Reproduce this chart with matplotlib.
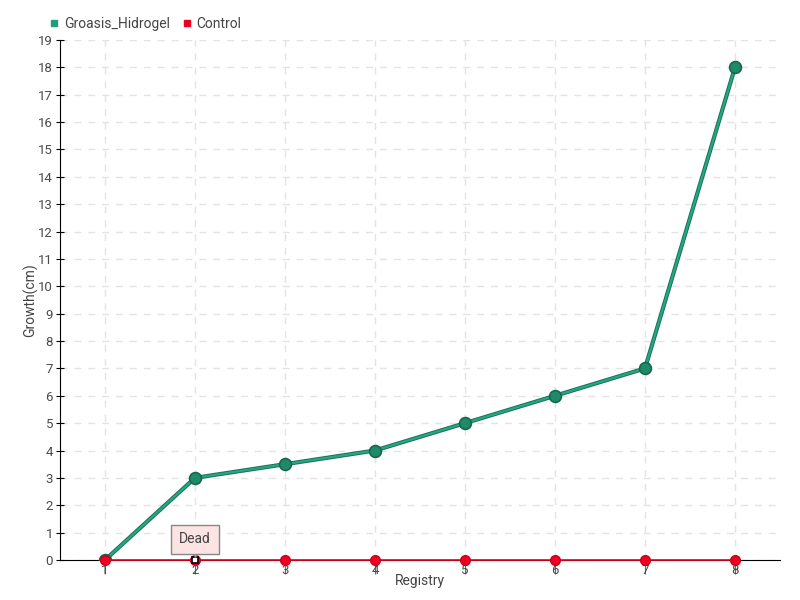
import matplotlib
matplotlib.use("Agg")
import matplotlib.pyplot as plt
from matplotlib.transforms import offset_copy

registry = [1, 2, 3, 4, 5, 6, 7, 8]
groasis = [0, 3, 3.5, 4, 5, 6, 7, 18]
control = [0, 0, 0, 0, 0, 0, 0, 0]
yticks = list(range(0, 20))

plt.rcParams['font.family'] = ['Roboto', 'DejaVu Sans']

fig = plt.figure(figsize=(8, 6), dpi=100)
ax = fig.add_axes([0.075, 0.0667, 0.9, 0.8666])
ax.set_xlim(0.5, 8.5)
ax.set_ylim(0, 19)
ax.set_yticks(yticks)
ax.set_xticks(registry)
ax.grid(True, color='#e3e3e3', linestyle=(0, (5, 5)), linewidth=1)
ax.set_axisbelow(True)
for s in ['top', 'right']:
    ax.spines[s].set_visible(False)
ax.spines['left'].set_color('black')
ax.spines['bottom'].set_color('black')
ax.tick_params(axis='both', labelsize=9.5, colors='#4a4a4a')
ax.tick_params(axis='x', direction='out', length=10, color='#666666', pad=-7)
ax.tick_params(axis='y', direction='inout', length=6, color='black', pad=2)
for lbl in ax.get_xticklabels():
    lbl.set_zorder(10)

ax.plot(registry, groasis, color='#1e6e55', linewidth=3.0, zorder=3)
ax.plot(registry, groasis, color='#22a884', linewidth=1.6, zorder=3,
        marker='o', markersize=8.5, markerfacecolor='#1f8a68', markeredgecolor='#176650',
        markeredgewidth=1.2, label='Groasis_Hidrogel')
ax.plot(registry, control, color='#ee0022', linewidth=1.2, zorder=4,
        marker='o', markersize=7, markerfacecolor='#ee0022', markeredgecolor='#cc0018',
        label='Control', clip_on=False)
ax.plot([2], [0], marker='s', markersize=5, markerfacecolor='white',
        markeredgecolor='black', markeredgewidth=1.2, zorder=6, clip_on=False)

ax.annotate('Dead', xy=(2, 0), xytext=(0, 15), textcoords='offset points',
            ha='center', va='center', fontsize=10, color='#444444',
            bbox=dict(boxstyle='square,pad=0.55', fc='#fde4e4', ec='#888888', lw=1),
            zorder=7)
# little pointer under the tooltip
tr = offset_copy(ax.transData, fig=fig, x=0, y=5, units='points')
ax.plot([2], [0], marker='v', markersize=6, markerfacecolor='#fde4e4',
        markeredgecolor='#888888', markeredgewidth=0.8, transform=tr, zorder=6.5, clip_on=False)

ax.set_xlabel('Registry', fontsize=10, color='#444444', labelpad=-2)
ax.set_ylabel('Growth(cm)', fontsize=10, color='#444444')
ax.yaxis.set_label_coords(-0.03, 0.5)

fig.legend(handles=[
    plt.Line2D([], [], marker='s', linestyle='none', color='#1f9e7c', markersize=5, label='Groasis_Hidrogel'),
    plt.Line2D([], [], marker='s', linestyle='none', color='#ee0022', markersize=5, label='Control')],
    loc='upper left', bbox_to_anchor=(0.035, 0.993), ncol=2, frameon=False,
    fontsize=10, handletextpad=-0.3, columnspacing=0.2, labelcolor='#444444')

fig.savefig('out.png', dpi=100)
